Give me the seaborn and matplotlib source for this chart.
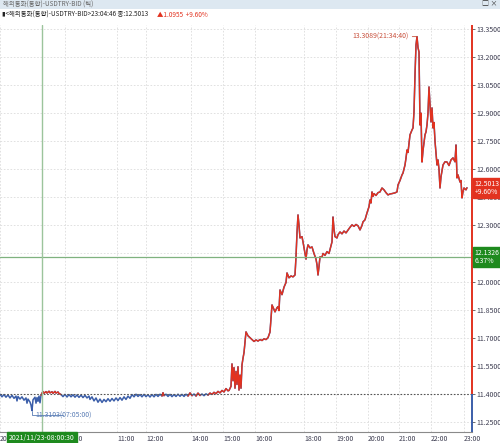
import numpy as np
import pandas as pd
import matplotlib
matplotlib.use("Agg")
import matplotlib.pyplot as plt
import seaborn as sns

tick_pos = [0, 2, 4, 6, 8, 10, 12, 14, 16, 17, 18, 20, 22, 24, 26, 27, 28, 30, 31, 32, 33, 35,
            36, 37, 38, 39, 40, 41, 42,
            43, 44, 46, 47, 49, 50, 52, 53, 55, 56, 58, 59, 61,
            63, 65, 67, 69, 71, 73, 75, 77, 79, 81, 83, 85, 87, 89,
            90, 92, 94, 96, 98, 100, 102, 104, 106, 108, 110, 112, 114, 116, 118, 120, 122, 124,
            126, 128, 130, 132,
            134, 136, 138, 140, 142, 144, 146, 148, 150, 152, 154, 156, 158, 160, 162, 163, 164,
            166, 168, 170, 172, 174, 176, 178, 180, 182, 184, 186, 188, 190, 192, 194, 196, 198,
            200, 202, 204, 206, 208, 210, 212, 214, 216, 218, 220, 222, 224, 226, 228,
            229, 231, 232, 233, 234, 235, 236, 237, 238, 239, 240, 241, 242, 243, 244, 246, 248,
            250, 252, 254, 256, 258, 260, 262, 264, 266, 268, 270, 271, 272, 274, 275, 277, 278,
            279, 280, 282, 284, 285, 286, 287, 289, 291, 293, 295, 296, 297, 298, 299, 300, 302,
            303, 305, 306, 307, 308, 310, 312, 314, 316, 317, 318, 319, 320, 322, 323, 325, 327,
            329, 331, 332, 333, 334, 335, 337, 338, 340, 342, 344, 346, 348, 350, 352, 354, 356,
            358, 360, 362, 363, 365, 367, 369, 370, 371, 372, 373, 374, 376, 378, 380, 382, 384,
            386, 388, 390, 392, 395, 397, 398, 400, 402, 403, 405, 406, 407, 408, 410, 412, 413,
            414, 415, 416, 417, 418, 419, 420, 421, 422, 423, 425, 426, 427, 428, 429, 430, 431,
            432, 433, 434, 435, 437, 438, 439, 440, 441, 443, 445, 447, 449, 451, 453, 455, 456,
            457, 458, 460, 461, 462, 463, 464, 466, 467]
price = [11.398, 11.384, 11.396, 11.382, 11.394, 11.378, 11.392, 11.376, 11.388, 11.362, 11.386,
         11.372, 11.384, 11.366, 11.378, 11.350, 11.372, 11.356, 11.340, 11.3103, 11.368, 11.382,
         11.350, 11.380, 11.360, 11.388, 11.352, 11.392, 11.404,
         11.412, 11.403, 11.412, 11.404, 11.414, 11.405, 11.411, 11.403, 11.413, 11.404, 11.410,
         11.402, 11.396,
         11.385, 11.397, 11.383, 11.396, 11.384, 11.395, 11.382, 11.394, 11.381, 11.393, 11.380,
         11.392, 11.378, 11.388,
         11.370, 11.384, 11.362, 11.378, 11.355, 11.372, 11.354, 11.370, 11.358, 11.374, 11.360,
         11.375, 11.362, 11.378, 11.364, 11.380, 11.366, 11.384, 11.370, 11.388, 11.376, 11.396,
         11.384, 11.398, 11.386, 11.396, 11.384, 11.397, 11.385, 11.395, 11.383, 11.396, 11.384,
         11.397, 11.386, 11.398, 11.388, 11.406, 11.390,
         11.398, 11.386, 11.397, 11.385, 11.396, 11.386, 11.398, 11.387, 11.397, 11.386, 11.398,
         11.388, 11.405, 11.390, 11.399, 11.388, 11.404, 11.391, 11.399, 11.390, 11.400, 11.393,
         11.404, 11.397, 11.408, 11.401, 11.413, 11.405, 11.418, 11.410, 11.428, 11.416,
         11.418, 11.440, 11.560, 11.470, 11.540, 11.430, 11.520, 11.450, 11.545, 11.420, 11.500,
         11.430, 11.555, 11.590, 11.620, 11.731, 11.710, 11.700, 11.690, 11.680, 11.688, 11.682,
         11.690, 11.685, 11.694, 11.690, 11.700, 11.730, 11.800, 11.875, 11.850, 11.838, 11.860,
         11.866, 11.845, 11.955, 11.930, 11.970, 11.982, 11.995, 12.046, 12.020, 12.030, 12.025,
         12.035, 12.132, 12.260, 12.356, 12.300, 12.233, 12.240, 12.212, 12.150, 12.120, 12.170,
         12.196, 12.180, 12.185, 12.150, 12.120, 12.090, 12.035, 12.080, 12.132, 12.130, 12.150,
         12.140, 12.160, 12.150, 12.190, 12.212, 12.345, 12.280, 12.240, 12.233, 12.250, 12.265,
         12.255, 12.270, 12.260, 12.275, 12.290, 12.303, 12.295, 12.305, 12.298, 12.276, 12.300,
         12.319, 12.330, 12.367, 12.400, 12.436, 12.420, 12.479, 12.455, 12.470, 12.460, 12.475,
         12.479, 12.500, 12.490, 12.475, 12.463, 12.468, 12.470, 12.474, 12.479, 12.516, 12.540,
         12.570, 12.580, 12.623, 12.660, 12.703, 12.690, 12.784, 12.810, 12.821, 12.906, 13.104,
         13.264, 13.3089, 13.250, 13.227, 12.837, 12.900, 12.639, 12.700, 12.784, 12.800, 12.837,
         12.900, 13.040, 12.950, 12.853, 12.928, 12.821, 12.850, 12.750, 12.623, 12.650, 12.600,
         12.500, 12.560, 12.623, 12.640, 12.639, 12.620, 12.650, 12.661, 12.640, 12.730, 12.554,
         12.570, 12.532, 12.540, 12.447, 12.480, 12.500, 12.490, 12.5013]
assert len(tick_pos) == len(price), (len(tick_pos), len(price))

base_price = 11.40          # previous close
open_pos = 42               # 08:00:30 start slot
open_label = "2021/11/23-08:00:30"
open_price = 12.1326
open_change = "6.37%"
last_price = 12.5013
last_change = "+9.60%"
low_price, low_time, low_pos = 11.3103, "07:05:00", 32
high_price, high_time, high_pos = 13.3089, "21:34:40", 417

xtick_pos = [0, 65, 117, 146, 191, 223, 255, 304, 336, 368, 399, 431, 464]
xtick_lab = ["2021/11/23", "10:00", "11:00", "12:00", "14:00", "15:00", "16:00", "18:00",
             "19:00", "20:00", "21:00", "22:00", "23:00"]
ytick_vals = [11.25, 11.40, 11.55, 11.70, 11.85, 12.00, 12.15, 12.30, 12.45, 12.60, 12.75,
              12.90, 13.05, 13.20, 13.35]

RED = "#e2321f"
BLUE = "#3b5ea9"
GREEN = "#1e8a1e"
TXT = "#3c3c50"

sns.set_style("white")
plt.rcParams['font.family'] = ['Noto Sans CJK KR', 'DejaVu Sans']
plt.rcParams['font.size'] = 5

df = pd.DataFrame({"pos": tick_pos, "price": price})
# red where the line sits above the previous close, blue otherwise
above = df["price"] > base_price
near = above | above.shift(1, fill_value=False) | above.shift(-1, fill_value=False)
run = (near != near.shift()).cumsum()
red_df = df[near].assign(run=run[near])

W, H = 500, 443
fig = plt.figure(figsize=(W / 100, H / 100), dpi=100)
ax = fig.add_axes([0, 1 - 432 / H, 472 / W, (432 - 25) / H])

sns.lineplot(data=df, x="pos", y="price", color=BLUE, lw=1.1, sort=False, ax=ax)
sns.lineplot(data=red_df, x="pos", y="price", units="run", estimator=None, color=RED,
             lw=1.0, sort=False, ax=ax)

ax.set_xlim(0, 472)
ax.set_ylim(11.196, 13.371)
ax.set_xlabel("")
ax.set_ylabel("")

# grid
ax.set_xticks(xtick_pos)
ax.set_xticklabels(xtick_lab)
ax.set_yticks(ytick_vals)
# 12.15 sits under the green start-price box
ax.set_yticklabels(["" if v == 12.15 else f"{v:.4f}" for v in ytick_vals])
ax.yaxis.tick_right()
ax.grid(True, color="#dcdcdc", lw=0.6, ls=(0, (2, 2)))
ax.tick_params(axis="y", length=2, width=0.6, pad=1, labelsize=5, colors="#555", labelcolor=TXT)
ax.tick_params(axis="x", length=2, width=0.6, pad=0, labelsize=5, colors="#555", labelcolor=TXT)
for lab in ax.get_xticklabels():
    lab.set_ha("left")

for s in ["left", "top", "right"]:
    ax.spines[s].set_visible(False)
ax.spines["bottom"].set_color("#8a8a8a")
ax.spines["bottom"].set_linewidth(0.8)

# right edge: red above previous close, blue below
ax.vlines(472, base_price, 13.371, color=RED, lw=1.4, clip_on=False, zorder=5)
ax.vlines(472, 11.196, base_price, color=BLUE, lw=1.4, clip_on=False, zorder=5)

ax.axhline(base_price, color="#555", lw=0.8, ls=(0, (1.5, 1.5)))
ax.axhline(open_price, color="#7fb27f", lw=0.9)
ax.axvline(open_pos, color="#9cc49c", lw=1.0)

# low / high marks
ax.annotate(f"{low_price:.4f}({low_time})", xy=(low_pos, low_price), xytext=(35, 11.285),
            color="#5a7db5", fontsize=5, va="center", ha="left",
            arrowprops=dict(arrowstyle="-", color="#5a7db5", lw=0.6,
                            connectionstyle="angle,angleA=0,angleB=90", shrinkA=0, shrinkB=0))
ax.annotate(f"{high_price:.4f}({high_time})", xy=(high_pos, high_price), xytext=(409, high_price),
            color="#c8503c", fontsize=5, va="center", ha="right",
            arrowprops=dict(arrowstyle="-", color="#c8503c", lw=0.6, shrinkA=0, shrinkB=0))

# price boxes on the right scale
ax.annotate(f"{last_price:.4f}\n{last_change}", xy=(1.0, last_price),
            xycoords=("axes fraction", "data"), xytext=(2, 0), textcoords="offset points",
            ha="left", va="center", color="white", fontsize=5, linespacing=0.95, zorder=10,
            bbox=dict(boxstyle="square,pad=0.3", fc=RED, ec=RED))
ax.annotate(f"{open_price:.4f}\n{open_change}", xy=(1.0, open_price),
            xycoords=("axes fraction", "data"), xytext=(2, 0), textcoords="offset points",
            ha="left", va="center", color="white", fontsize=5, linespacing=0.95, zorder=10,
            bbox=dict(boxstyle="square,pad=0.3", fc=GREEN, ec=GREEN))

# start-date box under the x axis
ax.annotate(open_label, xy=(open_pos, 0), xycoords=("data", "axes fraction"),
            xytext=(0, -1.5), textcoords="offset points", ha="center", va="top",
            color="white", fontsize=5, zorder=10,
            bbox=dict(boxstyle="square,pad=0.3", fc=GREEN, ec=GREEN))

# window header
fig.patches.append(plt.Rectangle((0, 1 - 9 / H), 1, 9 / H, transform=fig.transFigure,
                                 fc="#dde8f1", ec="none", zorder=0))
fig.text(3 / W, 1 - 4.5 / H, "해외통화(통합)-USDTRY-BID (틱)", color="#666", fontsize=4.6,
         va="center", ha="left")
fig.text(497 / W, 1 - 4.5 / H, "□ ×", color="#333", fontsize=5, va="center", ha="right")
fig.text(2 / W, 1 - 15 / H, "▮<해외통화(통합)-USDTRY-BID>23:04:46 종:12.5013", color="#222",
         fontsize=4.6, va="center", ha="left")
fig.text(157 / W, 1 - 15 / H, "▲1.0955  +9.60%", color=RED, fontsize=4.6, va="center", ha="left")

fig.savefig("out.png", dpi=100)
